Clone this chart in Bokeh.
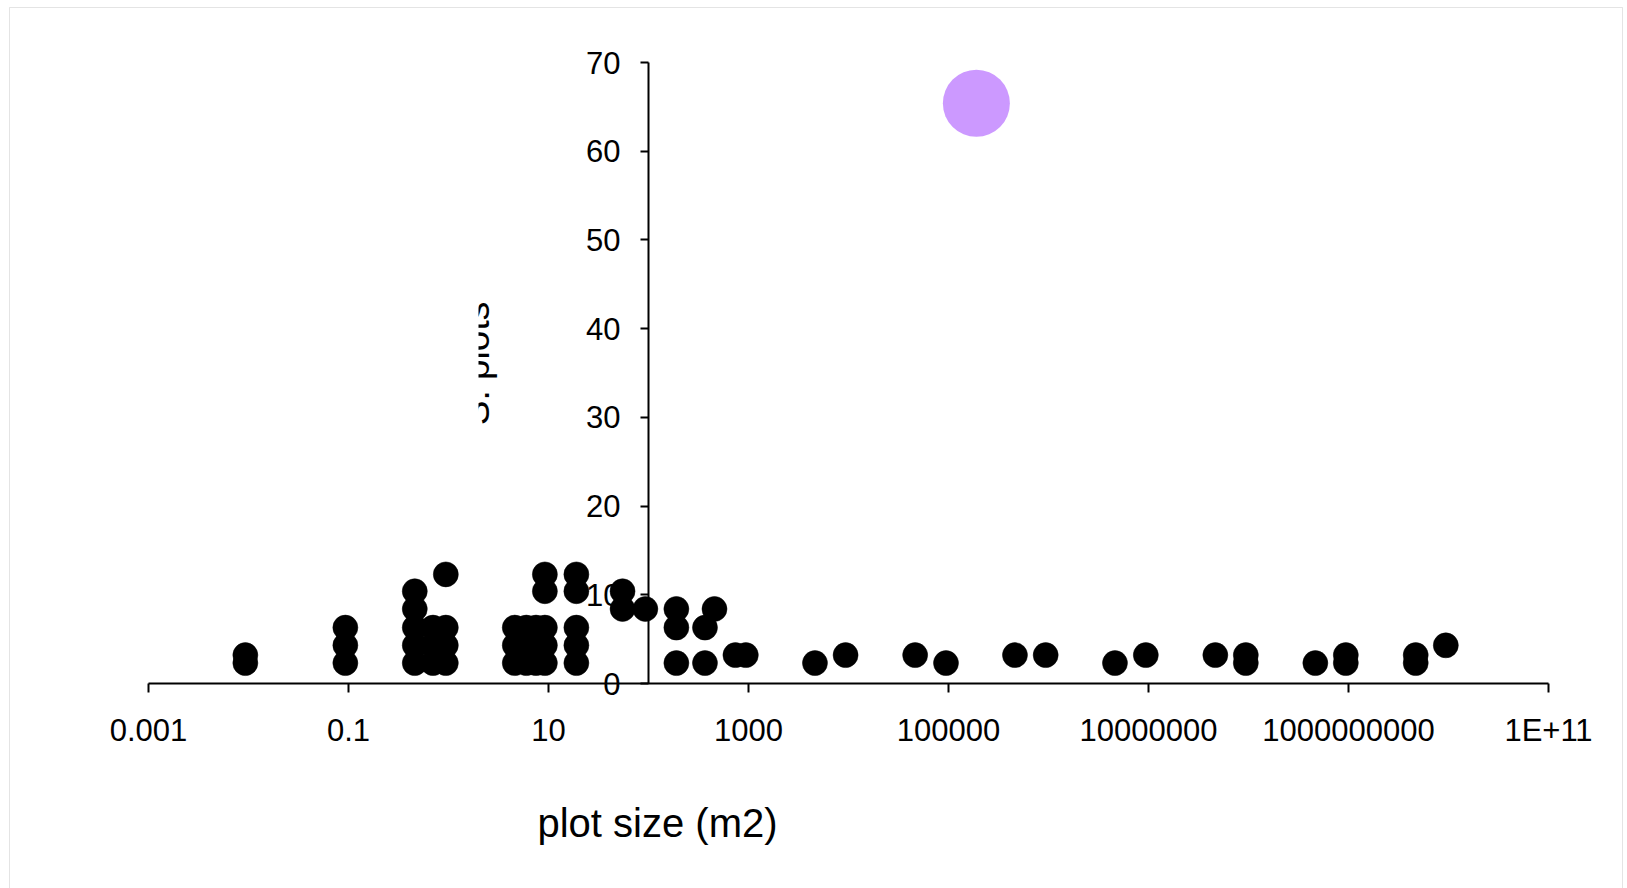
import math
from bokeh.plotting import figure
from bokeh.models import FixedTicker, CustomJSTickFormatter, Label, BoxAnnotation
from bokeh.embed import file_html
from bokeh.resources import INLINE

# ---- data ----
plot_size = [
    0.0093, 0.0093,
    0.093, 0.093, 0.093,
    0.46, 0.46, 0.46, 0.46, 0.46,
    0.70, 0.70, 0.70,
    0.94, 0.94, 0.94, 0.94,
    4.6, 4.6, 4.6,
    6.0, 6.0, 6.0,
    7.5, 7.5, 7.5,
    9.2, 9.2, 9.2, 9.2, 9.2,
    19, 19, 19, 19, 19,
    55, 55,
    93,
    190, 190, 190,
    367, 367,
    457,
    740, 940,
    4620, 9350,
    46400, 94400,
    462000, 937000,
    4.62e6, 9.4e6,
    4.66e7, 9.4e7, 9.4e7,
    4.66e8, 9.4e8, 9.4e8,
    4.7e9, 4.7e9,
    9.4e9,
]
species = [
    2.3, 3.2,
    2.3, 4.3, 6.3,
    2.3, 4.3, 6.3, 8.4, 10.4,
    2.3, 4.3, 6.3,
    2.3, 4.3, 6.3, 12.3,
    2.3, 4.3, 6.3,
    2.3, 4.3, 6.3,
    2.3, 4.3, 6.3,
    2.3, 4.3, 6.3, 10.4, 12.3,
    2.3, 4.3, 6.3, 10.4, 12.3,
    8.4, 10.4,
    8.4,
    2.3, 6.3, 8.4,
    2.3, 6.3,
    8.4,
    3.2, 3.2,
    2.3, 3.2,
    3.2, 2.3,
    3.2, 3.2,
    2.3, 3.2,
    3.2, 3.2, 2.3,
    2.3, 3.2, 2.3,
    3.2, 2.3,
    4.3,
]
highlight_size = [190000]
highlight_species = [65.4]

x_tick_values = [1e-3, 1e-1, 1e1, 1e3, 1e5, 1e7, 1e9, 1e11]
x_tick_exps = [-3, -1, 1, 3, 5, 7, 9, 11]
x_tick_labels = ["0.001", "0.1", "10", "1000", "100000", "10000000", "1000000000", "1E+11"]
y_tick_values = [0, 10, 20, 30, 40, 50, 60, 70]
x_title = "plot size (m2)"
y_title = "S. plots"

FONT = "Liberation Sans"

# Canvas geometry (pixels) of the reference: axes box from x=148..1548, y=62..683
W, H = 1627, 888
AX_L, AX_R, AX_T, AX_B = 148, 1548, 62, 683
X_MIN_EXP, X_MAX_EXP = -3, 11
Y_MIN, Y_MAX = 0, 70
px_per_dec = (AX_R - AX_L) / (X_MAX_EXP - X_MIN_EXP)
px_per_unit = (AX_B - AX_T) / (Y_MAX - Y_MIN)


def xv(px):
    return 10 ** (X_MIN_EXP + (px - AX_L) / px_per_dec)


def yv(py):
    return Y_MIN + (AX_B - py) / px_per_unit


p = figure(width=W, height=H, x_axis_type="log",
           x_range=(xv(0), xv(W)), y_range=(yv(H), yv(0)),
           output_backend="svg", toolbar_location=None,
           min_border_left=0, min_border_right=0,
           min_border_top=0, min_border_bottom=0,
           background_fill_color="white", border_fill_color="white")
p.outline_line_color = None
p.xgrid.visible = False
p.ygrid.visible = False

# x axis at y = 0
xa = p.xaxis[0]
xa.fixed_location = 0
xa.bounds = (x_tick_values[0], x_tick_values[-1])
xa.ticker = FixedTicker(ticks=x_tick_values, minor_ticks=[])
xa.formatter = CustomJSTickFormatter(
    args=dict(exps=x_tick_exps, labels=x_tick_labels),
    code="const k = Math.round(Math.log10(tick)); const i = exps.indexOf(k); return i >= 0 ? labels[i] : '';")
xa.axis_line_color = "black"
xa.axis_line_width = 2
xa.major_tick_line_width = 2
xa.major_tick_out = 9
xa.major_tick_in = 0
xa.minor_tick_line_color = None
xa.major_label_text_font = FONT
xa.major_label_text_font_size = "31px"
xa.major_label_text_color = "black"
xa.major_label_standoff = 20

# y axis crossing at x = 100
ya = p.yaxis[0]
ya.fixed_location = 100
ya.bounds = (Y_MIN, Y_MAX)
ya.ticker = FixedTicker(ticks=y_tick_values, minor_ticks=[])
ya.axis_line_color = "black"
ya.axis_line_width = 2
ya.major_tick_line_width = 2
ya.major_tick_out = 8
ya.major_tick_in = 0
ya.minor_tick_line_color = None
ya.major_label_text_font = FONT
ya.major_label_text_font_size = "31px"
ya.major_label_text_color = "black"
ya.major_label_standoff = 20

# chart area border
p.add_layout(BoxAnnotation(left=xv(9), right=xv(1622), top=yv(7), bottom=yv(H + 20),
                           fill_alpha=0, line_color="#a6a6a6", line_width=1))

# titles
p.add_layout(Label(x=xv(657), y=yv(822), text=x_title, text_align="center",
                   text_baseline="alphabetic", text_font=FONT,
                   text_font_size="40px", text_color="black"))
p.add_layout(Label(x=xv(476), y=yv(363), text=y_title, angle=math.pi / 2,
                   text_align="center", text_baseline="alphabetic",
                   text_font=FONT, text_font_size="37px", text_color="black"))

# the reference shows the y title cut on its left half: white mask drawn above it
p.quad(left=[xv(430)], right=[xv(478)], top=[yv(280)], bottom=[yv(450)],
       fill_color="white", line_color=None, level="overlay")

p.scatter(plot_size, species, size=25, fill_color="black", line_color="black",
          line_width=0.5, level="overlay")
p.scatter(highlight_size, highlight_species, size=67, fill_color="#CC99FF",
          line_color=None, level="overlay")

open("out.html", "w").write(file_html(p, INLINE))
